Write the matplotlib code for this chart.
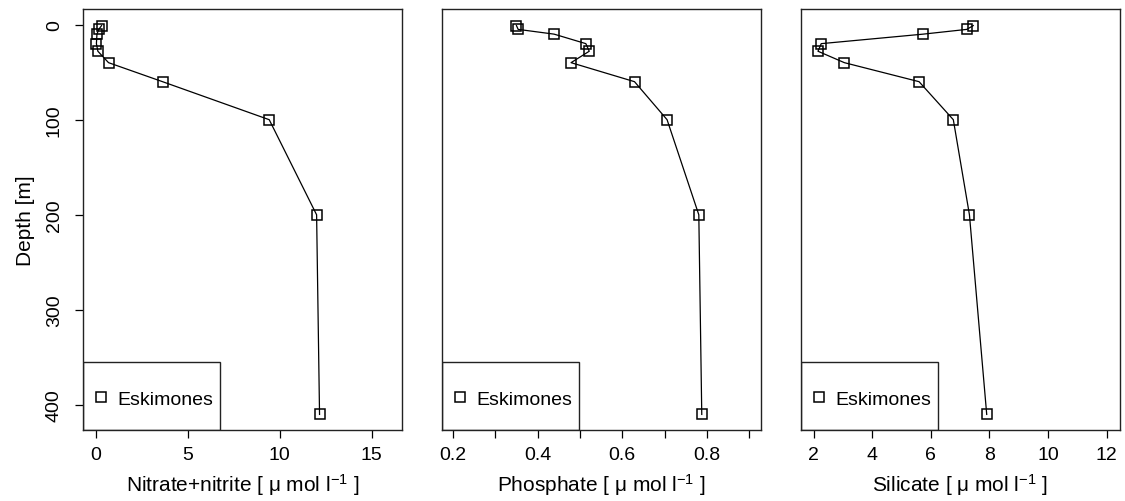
import matplotlib
matplotlib.use("Agg")
import matplotlib.pyplot as plt
from matplotlib.patches import Rectangle

plt.rcParams["font.family"] = ["Liberation Sans", "DejaVu Sans"]
plt.rcParams["mathtext.default"] = "regular"

# depth profile at station Eskimones
depth = [1, 5, 10, 20, 28, 40, 60, 100, 200, 410]
nitrate = [0.3, 0.15, 0.05, 0.02, 0.1, 0.68, 3.62, 9.43, 12.01, 12.17]
phosphate = [0.35, 0.354, 0.439, 0.514, 0.522, 0.479, 0.629, 0.706, 0.781, 0.788]
silicate = [7.45, 7.23, 5.74, 2.26, 2.15, 3.05, 5.60, 6.77, 7.32, 7.91]

series = [nitrate, phosphate, silicate]
xlabels = ["Nitrate+nitrite [ μ mol l$^{-1}$ ]",
           "Phosphate [ μ mol l$^{-1}$ ]",
           "Silicate [ μ mol l$^{-1}$ ]"]
xlims = [(-0.71, 16.66), (0.174, 0.928), (1.57, 12.46)]
xticks = [[0, 5, 10, 15],
          [0.2, 0.3, 0.4, 0.5, 0.6, 0.7, 0.8, 0.9],
          [2, 4, 6, 8, 10, 12]]
xticklabels = [["0", "5", "10", "15"],
               ["0.2", "", "0.4", "", "0.6", "", "0.8", ""],
               ["2", "4", "6", "8", "10", "12"]]
yticks = [0, 100, 200, 300, 400]
station = "Eskimones"

fig = plt.figure(figsize=(11.25, 5.02), dpi=100)
lefts = [83 / 1125, 442 / 1125, 801 / 1125]
fs = 14

for i, vals in enumerate(series):
    ax = fig.add_axes([lefts[i], 0.1414, 319 / 1125, 0.8386])
    ax.plot(vals, depth, color="black", lw=0.9)
    ax.plot(vals, depth, ls="none", marker="s", ms=7.8, mfc="none",
            mec="black", mew=1.1, label=station)
    ax.set_xlim(*xlims[i])
    ax.set_ylim(426.4, -16.4)
    ax.set_xticks(xticks[i])
    ax.set_xticklabels(xticklabels[i])
    ax.tick_params(axis="x", direction="out", length=5.5, width=0.9,
                   labelsize=fs, pad=6, colors="black")
    if i == 0:
        ax.set_yticks(yticks)
        ax.set_yticklabels([str(v) for v in yticks], rotation=90, va="center")
        ax.tick_params(axis="y", direction="out", length=5.5, width=0.9,
                       labelsize=fs, pad=9)
        ax.set_ylabel("Depth [m]", fontsize=15, labelpad=8)
    else:
        ax.set_yticks([])
    ax.set_xlabel(xlabels[i], fontsize=15, labelpad=6)
    for sp in ax.spines.values():
        sp.set_linewidth(1.0)
        sp.set_color("#222222")

    # legend box in the lower left corner, as in R's legend("bottomleft")
    ax.add_patch(Rectangle((0, 0), 0.4295, 0.1615, transform=ax.transAxes,
                           fill=False, ec="#222222", lw=1.0, zorder=3))
    ax.legend(loc="center left", bbox_to_anchor=(0, 0.0736), frameon=False,
              fontsize=fs, borderpad=0, borderaxespad=0.4, handlelength=1.0,
              handletextpad=0.35, markerscale=0.9)

fig.savefig("out.png", dpi=100)
